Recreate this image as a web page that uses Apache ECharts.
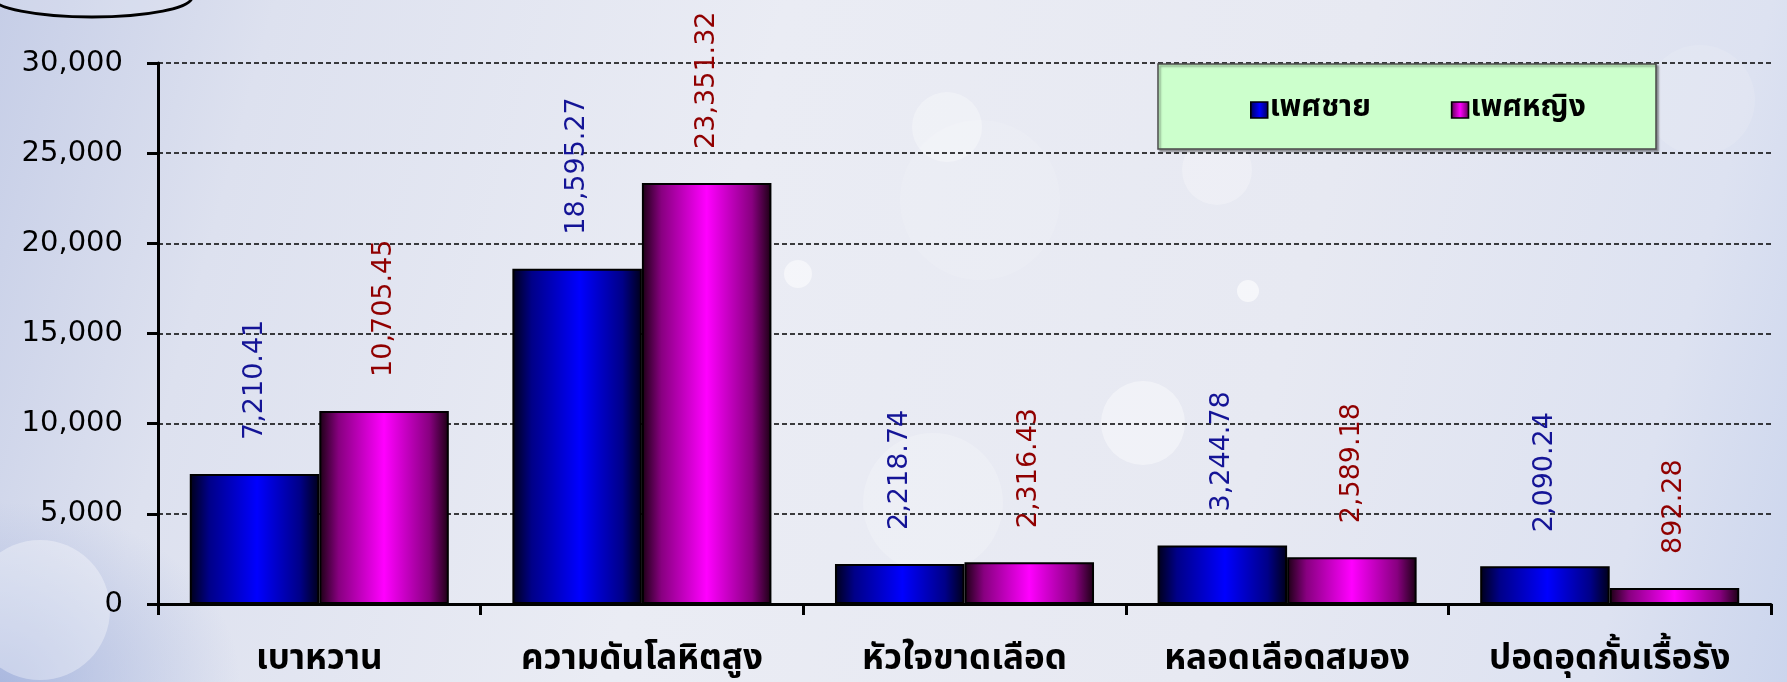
<!DOCTYPE html>
<html>
<head>
<meta charset="utf-8">
<script src="https://cdn.jsdelivr.net/npm/echarts@6/dist/echarts.min.js"></script>
<style>
html,body{margin:0;padding:0;}
#chart{width:1787px;height:682px;
background:
 radial-gradient(ellipse 240px 180px at 0px 682px, rgba(160,176,220,0.8), rgba(160,176,220,0) 100%),
 linear-gradient(105deg, #c6cee7 0%, #dde1ef 14%, #eaecf4 40%, #e7e9f2 70%, #dde2f1 90%, #cbd5ed 100%);}
</style>
</head>
<body>
<div id="chart"></div>
<script>
const categories = ['เบาหวาน', 'ความดันโลหิตสูง', 'หัวใจขาดเลือด', 'หลอดเลือดสมอง', 'ปอดอุดกั้นเรื้อรัง'];
const seriesNames = ['เพศชาย', 'เพศหญิง'];
const maleValues = [7210.41, 18595.27, 2218.74, 3244.78, 2090.24];
const femaleValues = [10705.45, 23351.32, 2316.43, 2589.18, 892.28];
const yTicks = [0, 5000, 10000, 15000, 20000, 25000, 30000];

const chart = echarts.init(document.getElementById('chart'), null, {renderer: 'canvas'});

const fmt = v => Number(v).toLocaleString('en-US', {minimumFractionDigits: 2, maximumFractionDigits: 2});
const thaiFont = '"Noto Sans Thai", "Tahoma", "Noto Sans", "DejaVu Sans", sans-serif';

const blueGrad = new echarts.graphic.LinearGradient(0, 0, 1, 0, [
  {offset: 0, color: '#000018'},
  {offset: 0.15, color: '#000088'},
  {offset: 0.52, color: '#0000ff'},
  {offset: 0.85, color: '#000088'},
  {offset: 1, color: '#000018'}
]);
const pinkGrad = new echarts.graphic.LinearGradient(0, 0, 1, 0, [
  {offset: 0, color: '#1a0012'},
  {offset: 0.15, color: '#880080'},
  {offset: 0.5, color: '#ff00ff'},
  {offset: 0.85, color: '#880080'},
  {offset: 1, color: '#1a0012'}
]);

function bokeh(cx, cy, r, op) {
  return {type: 'circle', silent: true, z: -10, shape: {cx: cx, cy: cy, r: r},
    style: {fill: 'rgba(255,255,255,' + op + ')'}};
}

const option = {
  animation: false,
  backgroundColor: 'transparent',
  graphic: [
    bokeh(980, 200, 80, 0.12),
    bokeh(947, 127, 35, 0.3),
    bokeh(1217, 170, 35, 0.25),
    bokeh(1143, 423, 42, 0.4),
    bokeh(933, 503, 70, 0.2),
    bokeh(798, 274, 14, 0.5),
    bokeh(1248, 291, 11, 0.6),
    bokeh(40, 610, 70, 0.35),
    bokeh(1700, 100, 55, 0.12),
    {type: 'ellipse', silent: true, z: 5, shape: {cx: 92, cy: -3, rx: 100, ry: 20},
      style: {fill: 'rgba(255,255,255,0.15)', stroke: '#000', lineWidth: 3}},
    {type: 'rect', silent: true, z: 5, shape: {x: 1158, y: 64, width: 498, height: 85},
      style: {fill: '#ccffcc', stroke: '#4a4a4a', lineWidth: 1.5,
        shadowColor: 'rgba(0,0,0,0.35)', shadowOffsetX: 2, shadowOffsetY: 2, shadowBlur: 2}}
  ],
  legend: {
    data: seriesNames,
    left: 1250,
    top: 95,
    z: 10,
    icon: 'rect',
    itemWidth: 17,
    itemHeight: 16,
    itemGap: 80,
    padding: 0,
    textStyle: {fontFamily: thaiFont, fontSize: 30, fontWeight: 'bold', color: '#000', padding: [0, 0, 0, -3]},
    itemStyle: {borderColor: '#000', borderWidth: 1.5}
  },
  grid: {left: 158, right: 16, top: 63, bottom: 78, containLabel: false},
  xAxis: {
    type: 'category',
    data: categories,
    axisLine: {lineStyle: {color: '#000', width: 3}},
    axisTick: {show: true, length: 11, alignWithLabel: false, lineStyle: {color: '#000', width: 3}},
    axisLabel: {interval: 0, margin: 40, color: '#000', fontFamily: thaiFont, fontSize: 35, fontWeight: 'bold'},
    splitLine: {show: false}
  },
  yAxis: {
    type: 'value',
    min: yTicks[0],
    max: yTicks[yTicks.length - 1],
    interval: yTicks[1] - yTicks[0],
    axisLine: {show: true, lineStyle: {color: '#000', width: 3}},
    axisTick: {show: true, length: 11, lineStyle: {color: '#000', width: 3}},
    axisLabel: {margin: 35, color: '#000', fontFamily: '"DejaVu Sans", sans-serif', fontSize: 29,
      padding: [8, 0, 0, 0],
      formatter: v => Number(v).toLocaleString('en-US')},
    splitLine: {show: true, lineStyle: {color: '#000', width: 1.5, type: [5, 3]}}
  },
  series: [
    {
      name: seriesNames[0], type: 'bar', data: maleValues,
      barGap: '0%', barCategoryGap: '19.7%',
      itemStyle: {color: blueGrad, borderColor: '#000', borderWidth: 2},
      label: {show: true, position: 'top', distance: 34, rotate: 90, align: 'left', verticalAlign: 'middle',
        color: '#141496', fontFamily: '"DejaVu Sans", sans-serif', fontSize: 27,
        formatter: p => fmt(p.value)}
    },
    {
      name: seriesNames[1], type: 'bar', data: femaleValues,
      barGap: '0%', barCategoryGap: '19.7%',
      itemStyle: {color: pinkGrad, borderColor: '#000', borderWidth: 2},
      label: {show: true, position: 'top', distance: 34, rotate: 90, align: 'left', verticalAlign: 'middle',
        color: '#900000', fontFamily: '"DejaVu Sans", sans-serif', fontSize: 27,
        formatter: p => fmt(p.value)}
    }
  ]
};
chart.setOption(option);
</script>
</body>
</html>
